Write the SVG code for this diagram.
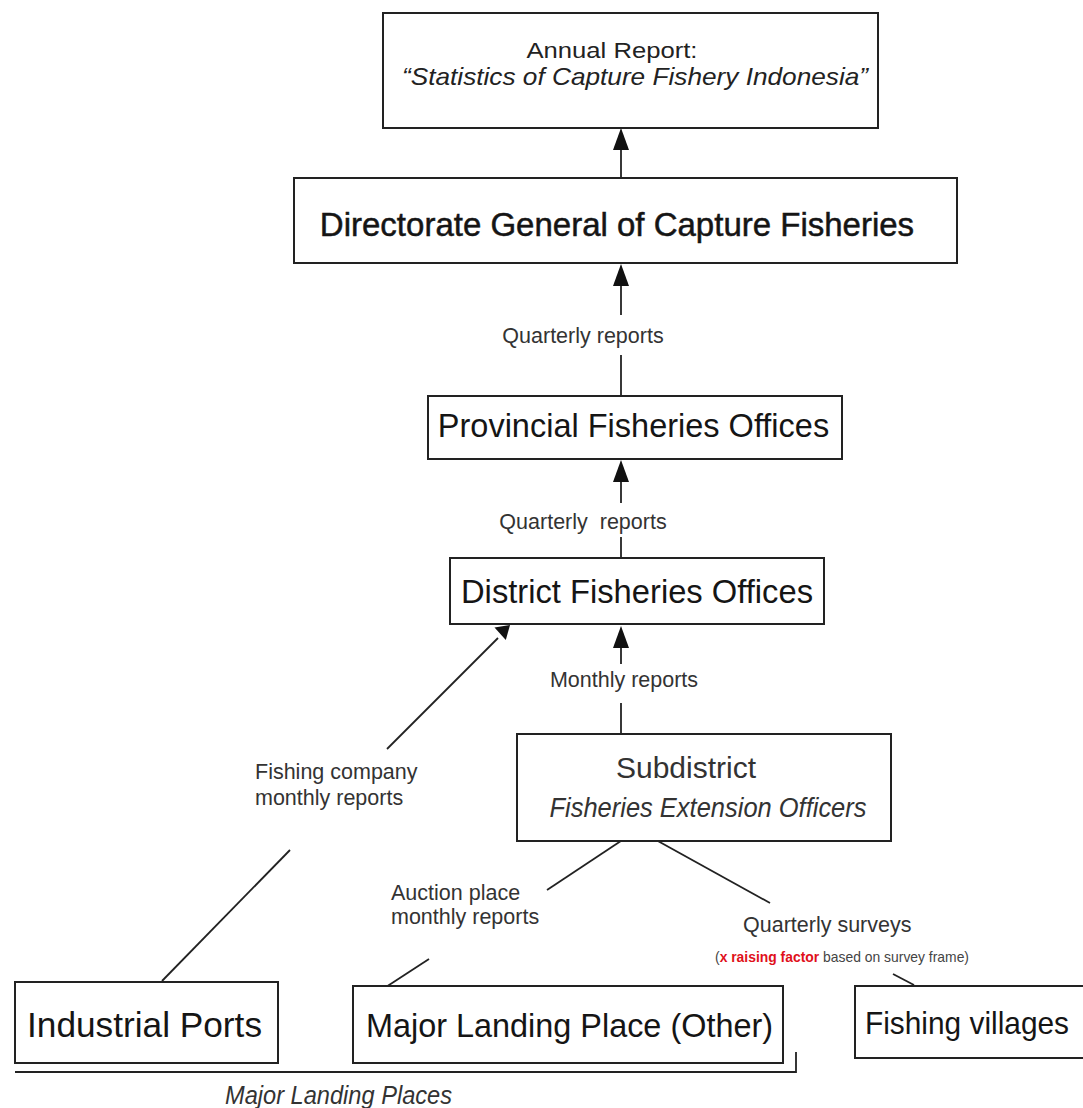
<svg xmlns="http://www.w3.org/2000/svg" width="1083" height="1108" viewBox="0 0 1083 1108">
<style>
text{font-family:"Liberation Sans",Arial,sans-serif;}
.box{fill:#fff;stroke:#222;stroke-width:2;}
.t{fill:#151515;}
.lbl{fill:#333;font-size:21.5px;}
.con{stroke:#222;stroke-width:1.8;fill:none;}
.ah{fill:#111;}
.it{font-style:italic;}
</style>
<rect width="1083" height="1108" fill="#fff"/>

<g id="connectors">
<line class="con" x1="621" y1="178" x2="621" y2="148"/>
<path class="ah" d="M613,150 L621,128 L629,150 Z"/>
<line class="con" x1="621" y1="315" x2="621" y2="280"/>
<path class="ah" d="M613,286 L621,264 L629,286 Z"/>
<line class="con" x1="621" y1="355" x2="621" y2="396"/>
<text class="lbl" x="583" y="343" text-anchor="middle">Quarterly reports</text>
<line class="con" x1="621" y1="503" x2="621" y2="476"/>
<path class="ah" d="M613,482 L621,460 L629,482 Z"/>
<line class="con" x1="621" y1="537" x2="621" y2="558"/>
<text class="lbl" x="583" y="529" text-anchor="middle" xml:space="preserve">Quarterly  reports</text>
<line class="con" x1="621" y1="664" x2="621" y2="642"/>
<path class="ah" d="M613,648 L621,626 L629,648 Z"/>
<line class="con" x1="621" y1="703" x2="621" y2="734"/>
<text class="lbl" x="624" y="687" text-anchor="middle">Monthly reports</text>
<line class="con" x1="162" y1="981" x2="290" y2="850"/>
<line class="con" x1="387" y1="749" x2="498" y2="638"/>
<path class="ah" d="M494.5,627.5 L510,625 L505.8,640.1 Z"/>
<text class="lbl" x="255" y="779">Fishing company</text>
<text class="lbl" x="255" y="805">monthly reports</text>
<line class="con" x1="386" y1="987" x2="429" y2="959"/>
<line class="con" x1="547" y1="890" x2="645" y2="825"/>
<line class="con" x1="770" y1="903" x2="629" y2="825"/>
<line class="con" x1="893" y1="974" x2="914" y2="985"/>
<text class="lbl" x="391" y="900">Auction place</text>
<text class="lbl" x="391" y="924">monthly reports</text>
<text class="lbl" x="743" y="932">Quarterly surveys</text>
<text x="715" y="962" font-size="15" fill="#444" textLength="254" lengthAdjust="spacingAndGlyphs">(<tspan fill="#e0101a" font-weight="bold">x raising factor</tspan> based on survey frame)</text>
<polyline class="con" points="15,1072 796,1072 796,1052"/>
<text x="225" y="1104" font-size="26" fill="#333" class="it" textLength="227" lengthAdjust="spacingAndGlyphs">Major Landing Places</text>
</g>

<g id="annual-report">
<rect class="box" x="383" y="13" width="495" height="115"/>
<text x="612" y="58" font-size="22.5" text-anchor="middle" fill="#222" textLength="171" lengthAdjust="spacingAndGlyphs">Annual Report:</text>
<text class="it" x="635" y="85" font-size="24" text-anchor="middle" fill="#222" textLength="466" lengthAdjust="spacingAndGlyphs">“Statistics of Capture Fishery Indonesia”</text>
</g>

<g id="dg">
<rect class="box" x="294" y="178" width="663" height="85"/>
<text class="t" x="617" y="236" font-size="33" text-anchor="middle" stroke="#151515" stroke-width="0.5">Directorate General of Capture Fisheries</text>
</g>

<g id="provincial">
<rect class="box" x="428" y="396" width="414" height="63"/>
<text class="t" x="633.5" y="437" font-size="32.5" text-anchor="middle">Provincial Fisheries Offices</text>
</g>

<g id="district">
<rect class="box" x="450" y="558" width="374" height="66"/>
<text class="t" x="637" y="603" font-size="32.5" text-anchor="middle" textLength="352" lengthAdjust="spacingAndGlyphs">District Fisheries Offices</text>
</g>

<g id="subdistrict">
<rect class="box" x="517" y="734" width="374" height="107"/>
<text x="686" y="778" font-size="30" text-anchor="middle" fill="#333">Subdistrict</text>
<text x="708" y="817" font-size="27" text-anchor="middle" fill="#333" class="it" textLength="317" lengthAdjust="spacingAndGlyphs">Fisheries Extension Officers</text>
</g>

<g id="industrial-ports">
<rect class="box" x="15" y="982" width="263" height="81"/>
<text class="t" x="144.5" y="1037" font-size="35" text-anchor="middle" textLength="235" lengthAdjust="spacingAndGlyphs">Industrial Ports</text>
</g>

<g id="major-landing">
<rect class="box" x="353" y="986" width="430" height="77"/>
<text class="t" x="569.5" y="1037" font-size="34" text-anchor="middle" textLength="407" lengthAdjust="spacingAndGlyphs">Major Landing Place (Other)</text>
</g>

<g id="fishing-villages">
<rect class="box" x="855" y="986" width="240" height="72"/>
<text class="t" x="865" y="1034" font-size="32" textLength="204" lengthAdjust="spacingAndGlyphs">Fishing villages</text>
</g>
</svg>
